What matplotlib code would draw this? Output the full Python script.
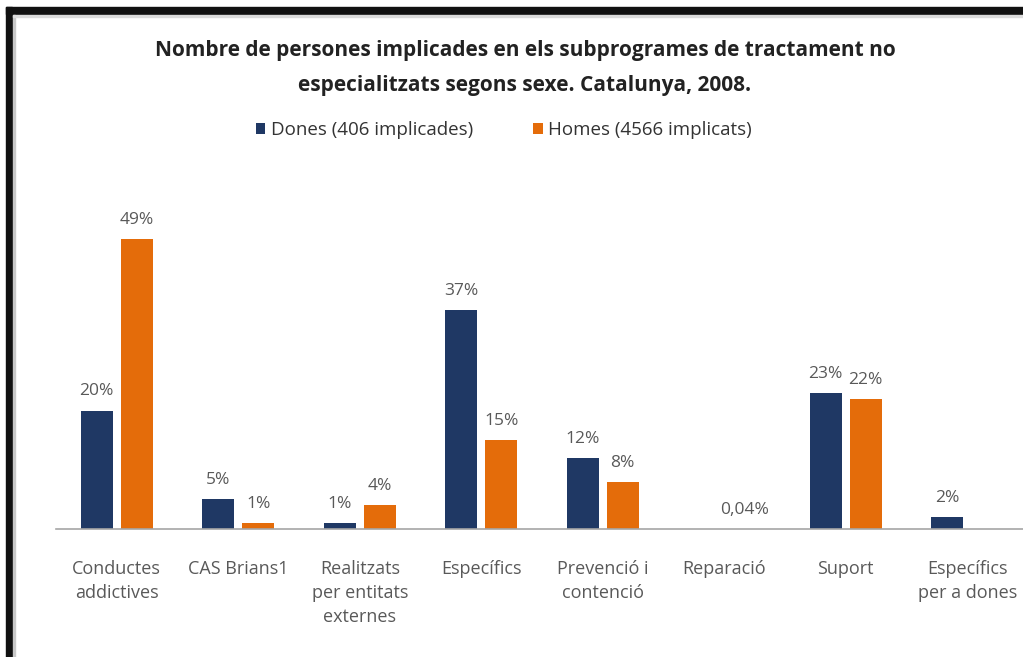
import matplotlib
matplotlib.use("Agg")
import matplotlib.pyplot as plt
from matplotlib.patches import Rectangle
import numpy as np

# ------- dades -------
categories = ["Conductes\naddictives", "CAS Brians1", "Realitzats\nper entitats\nexternes",
              "Específics", "Prevenció i\ncontenció", "Reparació", "Suport",
              "Específics\nper a dones"]
dones = [20, 5, 1, 37, 12, 0, 23, 2]        # % de dones
homes = [49, 1, 4, 15, 8, 0.04, 22, 0]      # % d'homes
series_names = ["Dones (406 implicades)", "Homes (4566 implicats)"]
title = ("Nombre de persones implicades en els subprogrames de tractament no\n"
         "especialitzats segons sexe. Catalunya, 2008.")

col_dones = "#1f3864"
col_homes = "#e46c0a"
col_text = "#595959"
font = "Open Sans"

W, H = 1023, 657
fig = plt.figure(figsize=(W / 100, H / 100), dpi=100)

def fx(px):
    return px / W

def fy(py):
    return 1 - py / H

# marc negre (només a dalt i a l'esquerra) i línia grisa interior
fig.patches.append(Rectangle((fx(6), fy(14)), fx(W - 6), 7 / H, transform=fig.transFigure,
                             color="#111111", zorder=0))
fig.patches.append(Rectangle((fx(6), 0), 6 / W, fy(7), transform=fig.transFigure,
                             color="#111111", zorder=0))
fig.patches.append(Rectangle((fx(13), 0), 2 / W, fy(15), transform=fig.transFigure,
                             color="#c8c8c8", zorder=0))
fig.patches.append(Rectangle((fx(13), fy(17)), fx(W - 13), 2 / H, transform=fig.transFigure,
                             color="#dcdcdc", zorder=0))

# eixos: 8 categories de ~121.5 px, la darrera queda retallada a la dreta
left_px, right_px = 56, 1028
top_px, base_px = 200, 529
ax = fig.add_axes([fx(left_px), fy(base_px), (right_px - left_px) / W, (base_px - top_px) / H])
ax.set_xlim(-0.5, len(categories) - 0.5)
ax.set_ylim(0, (base_px - top_px) / 5.92)

x = np.arange(len(categories))
bw = 0.265
off = 0.165
ax.bar(x - off, dones, bw, color=col_dones, label=series_names[0], zorder=2)
ax.bar(x + off, homes, bw, color=col_homes, label=series_names[1], zorder=2)

def fmt(v):
    return ("%g%%" % v).replace(".", ",")

for xi, v in zip(x, dones):
    if v > 0:
        ax.annotate(fmt(v), (xi - off, v), xytext=(0, 8), textcoords="offset points",
                    ha="center", va="bottom", fontsize=12.5, color=col_text, family=font)
for xi, v in zip(x, homes):
    if v > 0:
        ax.annotate(fmt(v), (xi + off, v), xytext=(0, 8), textcoords="offset points",
                    ha="center", va="bottom", fontsize=12.5, color=col_text, family=font)

for s in ["top", "left", "right"]:
    ax.spines[s].set_visible(False)
ax.spines["bottom"].set_color("#a6a6a6")
ax.spines["bottom"].set_linewidth(1.2)
ax.spines["bottom"].set_clip_on(False)
ax.set_yticks([])
ax.set_xticks(x)
ax.set_xticklabels(categories, fontsize=13, color=col_text, family=font, linespacing=1.45)
ax.tick_params(axis="x", length=0, pad=22)

# títol i llegenda
fig.text(fx(525), fy(68), title, ha="center", va="center", fontsize=15, fontweight="bold",
         family=font, color="#222222", linespacing=1.85)
fig.legend(loc="center", bbox_to_anchor=(fx(504), fy(130)), ncol=2, frameon=False,
           prop={"family": font, "size": 13.5}, handlelength=0.5, handleheight=0.5,
           handletextpad=0.3, columnspacing=3.2, labelcolor="#333333")

fig.savefig("out.png", dpi=100, facecolor="white")
